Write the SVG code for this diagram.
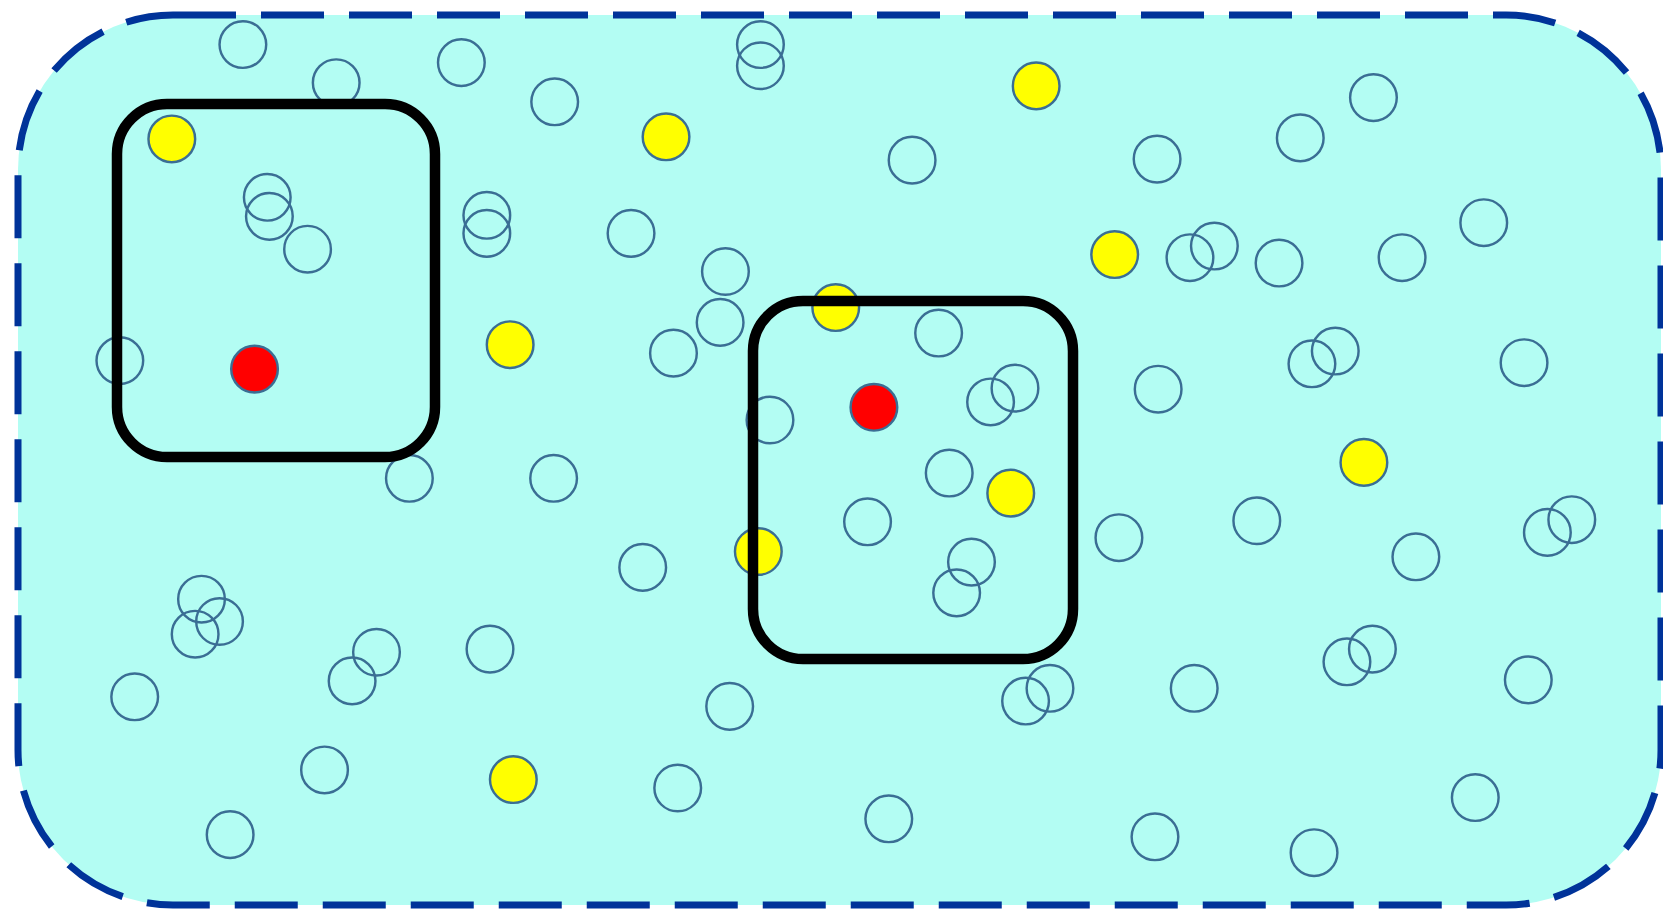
<svg xmlns="http://www.w3.org/2000/svg" width="1663" height="909" viewBox="0 0 1663 909">
<style>
.o{fill:none;stroke:#3A6E94;stroke-width:2.3}
.y{fill:#FFFF00;stroke:#3A6E94;stroke-width:2.3}
.r{fill:#FF0000;stroke:#3A6E94;stroke-width:2.3}
.box{fill:none;stroke:#000;stroke-width:10.5}
</style>
<rect width="1663" height="909" fill="#fff"/>
<g id="area">
<rect x="18" y="15" width="1643" height="890" rx="155" ry="155" fill="#B3FDF3" stroke="#003399" stroke-width="7" stroke-dasharray="63 25"/>
</g>
<g id="particles" transform="scale(1.06058)">
<circle class="o" cx="229" cy="42" r="22"/>
<circle class="o" cx="317" cy="78" r="22"/>
<circle class="o" cx="435" cy="59" r="22"/>
<circle class="o" cx="523" cy="96" r="22"/>
<circle class="o" cx="717" cy="42" r="22"/>
<circle class="o" cx="717" cy="62" r="22"/>
<circle class="o" cx="252" cy="186" r="22"/>
<circle class="o" cx="254" cy="204" r="22"/>
<circle class="o" cx="290" cy="235" r="22"/>
<circle class="o" cx="459" cy="203" r="22"/>
<circle class="o" cx="459" cy="220" r="22"/>
<circle class="o" cx="595" cy="220" r="22"/>
<circle class="o" cx="684" cy="256" r="22"/>
<circle class="o" cx="679" cy="304" r="22"/>
<circle class="o" cx="635" cy="333" r="22"/>
<circle class="o" cx="113" cy="340" r="22"/>
<circle class="o" cx="386" cy="451" r="22"/>
<circle class="o" cx="522" cy="451" r="22"/>
<circle class="o" cx="860" cy="151" r="22"/>
<circle class="o" cx="1091" cy="150" r="22"/>
<circle class="o" cx="1226" cy="130" r="22"/>
<circle class="o" cx="1295" cy="92" r="22"/>
<circle class="o" cx="1122" cy="243" r="22"/>
<circle class="o" cx="1145" cy="232" r="22"/>
<circle class="o" cx="1206" cy="248" r="22"/>
<circle class="o" cx="1322" cy="243" r="22"/>
<circle class="o" cx="1399" cy="210" r="22"/>
<circle class="o" cx="885" cy="314" r="22"/>
<circle class="o" cx="934" cy="379" r="22"/>
<circle class="o" cx="957" cy="366" r="22"/>
<circle class="o" cx="726" cy="396" r="22"/>
<circle class="o" cx="895" cy="446" r="22"/>
<circle class="o" cx="818" cy="492" r="22"/>
<circle class="o" cx="916" cy="530" r="22"/>
<circle class="o" cx="902" cy="559" r="22"/>
<circle class="o" cx="1092" cy="367" r="22"/>
<circle class="o" cx="1237" cy="343" r="22"/>
<circle class="o" cx="1259" cy="331" r="22"/>
<circle class="o" cx="1437" cy="342" r="22"/>
<circle class="o" cx="1055" cy="507" r="22"/>
<circle class="o" cx="1185" cy="491" r="22"/>
<circle class="o" cx="1335" cy="525" r="22"/>
<circle class="o" cx="1459" cy="502" r="22"/>
<circle class="o" cx="1482" cy="490" r="22"/>
<circle class="o" cx="606" cy="535" r="22"/>
<circle class="o" cx="190" cy="565" r="22"/>
<circle class="o" cx="207" cy="586" r="22"/>
<circle class="o" cx="184" cy="598" r="22"/>
<circle class="o" cx="127" cy="657" r="22"/>
<circle class="o" cx="355" cy="615" r="22"/>
<circle class="o" cx="332" cy="642" r="22"/>
<circle class="o" cx="462" cy="612" r="22"/>
<circle class="o" cx="688" cy="666" r="22"/>
<circle class="o" cx="967" cy="661" r="22"/>
<circle class="o" cx="990" cy="649" r="22"/>
<circle class="o" cx="1126" cy="649" r="22"/>
<circle class="o" cx="1270" cy="624" r="22"/>
<circle class="o" cx="1294" cy="612" r="22"/>
<circle class="o" cx="1441" cy="641" r="22"/>
<circle class="o" cx="306" cy="726" r="22"/>
<circle class="o" cx="217" cy="787" r="22"/>
<circle class="o" cx="639" cy="743" r="22"/>
<circle class="o" cx="838" cy="772" r="22"/>
<circle class="o" cx="1089" cy="789" r="22"/>
<circle class="o" cx="1239" cy="804" r="22"/>
<circle class="o" cx="1391" cy="752" r="22"/>
<circle class="y" cx="162" cy="131" r="22"/>
<circle class="y" cx="628" cy="129" r="22"/>
<circle class="y" cx="977" cy="81" r="22"/>
<circle class="y" cx="1051" cy="240" r="22"/>
<circle class="y" cx="481" cy="325" r="22"/>
<circle class="y" cx="788" cy="290" r="22"/>
<circle class="y" cx="953" cy="465" r="22"/>
<circle class="y" cx="715" cy="520" r="22"/>
<circle class="y" cx="1286" cy="436" r="22"/>
<circle class="y" cx="484" cy="735" r="22"/>
<circle class="r" cx="240" cy="348" r="22"/>
<circle class="r" cx="824" cy="384" r="22"/>
</g>
<g id="box1"><rect class="box" x="117" y="104" width="318" height="353" rx="50" ry="50"/></g>
<g id="box2"><rect class="box" x="753" y="301" width="320" height="358" rx="50" ry="50"/></g>
</svg>
